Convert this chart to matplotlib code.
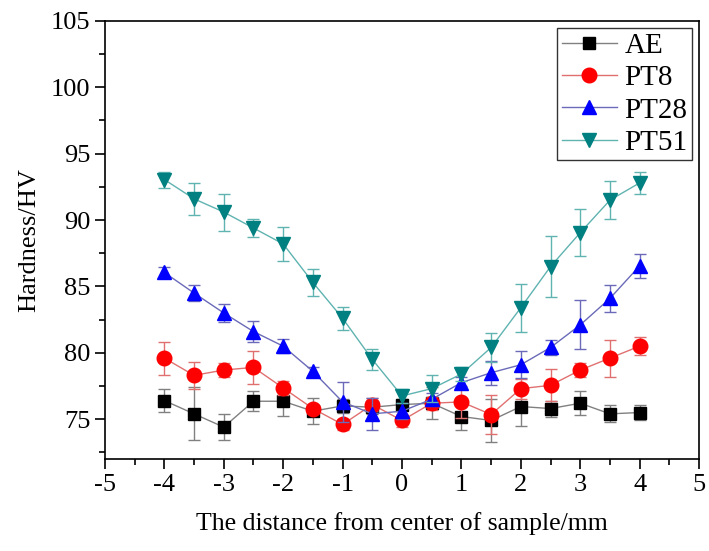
import numpy as np
import matplotlib.pyplot as plt
from matplotlib.ticker import MultipleLocator
from matplotlib.font_manager import FontProperties

plt.rcParams['font.family'] = 'serif'
plt.rcParams['font.serif'] = ['Liberation Serif', 'DejaVu Serif']
plt.rcParams['axes.unicode_minus'] = False

x = [-4, -3.5, -3, -2.5, -2, -1.5, -1, -0.5, 0, 0.5, 1, 1.5, 2, 2.5, 3, 3.5, 4]

ae = [76.4, 75.4, 74.4, 76.35, 76.35, 75.6, 76.0, 75.9, 76.1, 76.2, 75.2, 74.9, 75.95, 75.8, 76.2, 75.4, 75.5]
ae_err = [0.85, 2.0, 1.0, 0.75, 1.1, 1.0, 0.5, 0.5, 0.4, 1.2, 1.0, 1.6, 1.5, 0.6, 0.9, 0.65, 0.55]

pt8 = [79.6, 78.3, 78.7, 78.9, 77.35, 75.8, 74.6, 76.1, 74.9, 76.2, 76.3, 75.35, 77.3, 77.55, 78.7, 79.6, 80.5]
pt8_err = [1.25, 1.0, 0.55, 1.25, 0.5, 0.3, 0.4, 0.5, 0.5, 0.5, 1.2, 1.5, 0.75, 1.2, 0.55, 1.4, 0.7]

pt28 = [86.05, 84.5, 83.0, 81.6, 80.5, 78.6, 76.3, 75.4, 75.6, 76.5, 77.75, 78.5, 79.1, 80.4, 82.1, 84.1, 86.55]
pt28_err = [0.4, 0.6, 0.65, 0.8, 0.55, 0.3, 1.5, 1.2, 0.6, 0.5, 0.4, 0.9, 1.0, 0.6, 1.85, 1.0, 0.9]

pt51 = [93.05, 91.6, 90.6, 89.4, 88.2, 85.3, 82.6, 79.5, 76.75, 77.3, 78.4, 80.4, 83.4, 86.5, 89.05, 91.5, 92.8]
pt51_err = [0.6, 1.2, 1.4, 0.7, 1.25, 1.0, 0.85, 0.8, 0.5, 1.0, 0.5, 1.1, 1.8, 2.3, 1.75, 1.45, 0.8]

labels = ["AE", "PT8", "PT28", "PT51"]
xticks = [-5, -4, -3, -2, -1, 0, 1, 2, 3, 4, 5]
yticks = [75, 80, 85, 90, 95, 100, 105]

fig = plt.figure(figsize=(7.09, 5.51), dpi=100)
ax = fig.add_axes([0.148, 0.167, 0.838, 0.795])

series = [
    (ae, ae_err, "s", "black", "#808080", 9),
    (pt8, pt8_err, "o", "red", "#e07070", 10.5),
    (pt28, pt28_err, "^", "blue", "#6a6ab8", 10.5),
    (pt51, pt51_err, "v", "#008080", "#5fb3b0", 10.5),
]

for (y, e, m, mc, lc, ms), lab in zip(series, labels):
    ax.errorbar(x, y, yerr=e, fmt="none", ecolor=lc, elinewidth=1.0,
                capsize=4, capthick=1.0)
    ax.plot(x, y, "-", marker=m, color=lc, mfc=mc, mec=mc, ms=ms, lw=1.0,
            label=lab)

ax.set_xlim(-5, 5)
ax.set_ylim(72, 105)
ax.set_xticks(xticks)
ax.set_xticklabels([str(v) for v in xticks])
ax.set_yticks(yticks)
ax.set_yticklabels([str(v) for v in yticks])
ax.xaxis.set_minor_locator(MultipleLocator(0.5))
ax.yaxis.set_minor_locator(MultipleLocator(2.5))
ax.tick_params(which="both", direction="out", top=False, right=False,
               labelsize=19, width=1.2)
ax.tick_params(which="major", length=7)
ax.tick_params(which="minor", length=4)
for s in ax.spines.values():
    s.set_linewidth(1.2)

ax.set_xlabel("The distance from center of sample/mm", fontsize=18.5, labelpad=12)
ax.set_ylabel("Hardness/HV", fontsize=19, labelpad=8)

leg_font = FontProperties(family="Liberation Serif", size=21)
leg = ax.legend(loc="upper right", prop=leg_font, frameon=True, fancybox=False,
                edgecolor="black", handlelength=1.9, borderpad=0.15,
                labelspacing=0.2, handletextpad=0.25, borderaxespad=0.25)
leg.get_frame().set_linewidth(1.0)

plt.savefig("out.png", dpi=100)
